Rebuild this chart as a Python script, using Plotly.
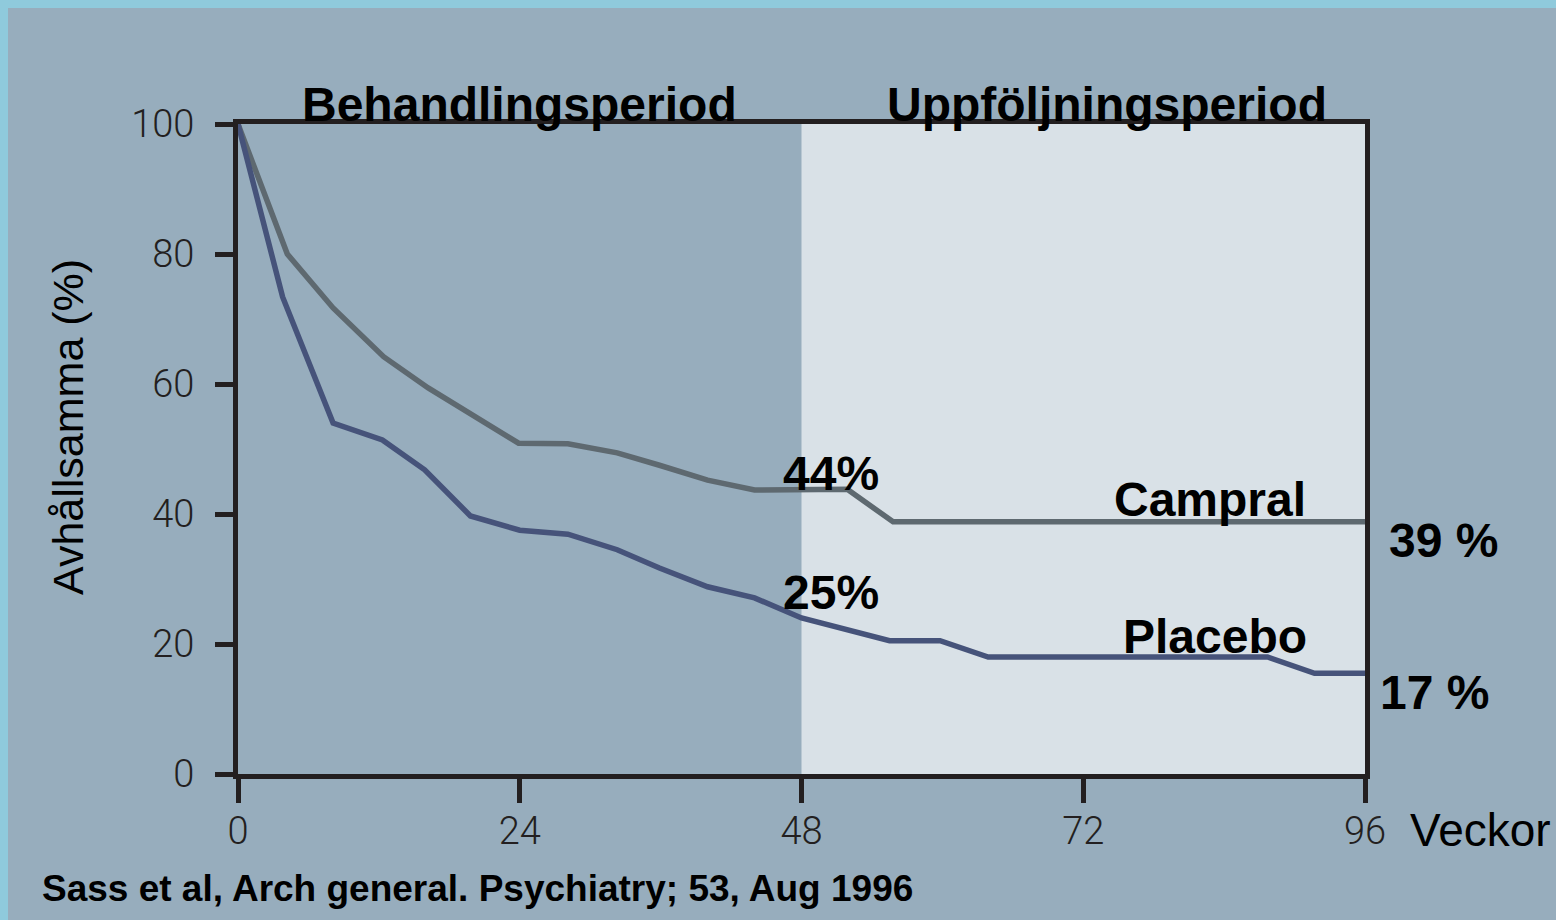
import plotly.graph_objects as go

# Data
weeks_campral = [0, 4.2, 8.1, 12.4, 16.2, 19.9, 23.9, 28.1, 32.3, 35.9, 40.0, 44.0, 47.9, 51.9, 55.8, 96]
campral = [100, 80, 71.7, 64.2, 59.4, 55.2, 50.9, 50.8, 49.4, 47.5, 45.2, 43.7, 43.7, 43.8, 38.8, 38.8]

weeks_placebo = [0, 3.8, 8.1, 12.3, 15.9, 19.8, 24.0, 28.1, 32.3, 35.9, 40.0, 44.0, 48.0, 51.7, 55.5, 59.8, 63.9, 87.7, 91.7, 96]
placebo = [100, 73.4, 54.0, 51.4, 46.8, 39.7, 37.5, 36.9, 34.5, 31.7, 28.8, 27.1, 24.0, 22.2, 20.5, 20.5, 18.0, 18.0, 15.5, 15.5]

x_ticks = [0, 24, 48, 72, 96]
y_ticks = [0, 20, 40, 60, 80, 100]

period_labels = ["Behandlingsperiod", "Uppföljningsperiod"]
period_x = [24, 74]

BG = "#97ADBD"
BORDER = "#8FCADC"
LIGHT = "#D9E1E7"
AXIS = "#231F20"
C_CAMPRAL = "#5E6970"
C_PLACEBO = "#46537A"
BOLD = "Liberation Sans, Arial, sans-serif"
THIN = "Roboto, Open Sans, sans-serif"

fig = go.Figure()
fig.add_trace(go.Scatter(x=weeks_campral, y=campral, mode="lines",
                         line=dict(color=C_CAMPRAL, width=5.5), name="Campral",
                         showlegend=False, hoverinfo="skip"))
fig.add_trace(go.Scatter(x=weeks_placebo, y=placebo, mode="lines",
                         line=dict(color=C_PLACEBO, width=5.5), name="Placebo",
                         showlegend=False, hoverinfo="skip"))

W, H = 1556, 920
ml, mr, mt, mb = 238, 191, 124, 146
pw, ph = W - ml - mr, H - mt - mb

def px2paper_x(px):
    return (px - ml) / pw

def px2paper_y(py):
    return (H - mb - py) / ph

shapes = [
    # outer border strip and main background
    dict(type="rect", xref="paper", yref="paper", x0=px2paper_x(-5), x1=px2paper_x(W + 5),
         y0=px2paper_y(H + 5), y1=px2paper_y(-5), fillcolor=BORDER, line_width=0, layer="below"),
    dict(type="rect", xref="paper", yref="paper", x0=px2paper_x(8), x1=px2paper_x(W + 5),
         y0=px2paper_y(H + 5), y1=px2paper_y(8), fillcolor=BG, line_width=0, layer="below"),
    # follow-up period area
    dict(type="rect", xref="x", yref="y", x0=48, x1=96, y0=0, y1=100,
         fillcolor=LIGHT, line_width=0, layer="below"),
]

BIG = 48
annotations = []
for lbl, xx in zip(period_labels, period_x):
    annotations.append(dict(x=xx, xref="x", y=px2paper_y(104), yref="paper", text="<b>" + lbl + "</b>",
                            showarrow=False, font=dict(family=BOLD, size=BIG, color="#000"),
                            xanchor="center", yanchor="middle"))

for txt, xx, yy in [("44%", 50.5, 46.3), ("25%", 50.5, 28.0), ("Campral", 82.8, 42.2), ("Placebo", 83.2, 21.1)]:
    annotations.append(dict(x=xx, y=yy, xref="x", yref="y", text="<b>" + txt + "</b>", showarrow=False,
                            font=dict(family=BOLD, size=BIG, color="#000"),
                            xanchor="center", yanchor="middle"))

for txt, pxx, pyy in [("39 %", 1444, 540), ("17 %", 1434, 692)]:
    annotations.append(dict(x=px2paper_x(pxx), y=px2paper_y(pyy), xref="paper", yref="paper",
                            text="<b>" + txt + "</b>", showarrow=False,
                            font=dict(family=BOLD, size=BIG, color="#000"),
                            xanchor="center", yanchor="middle"))

annotations.append(dict(x=px2paper_x(68), y=px2paper_y(427), xref="paper", yref="paper",
                        text="Avhållsamma (%)", textangle=-90, showarrow=False,
                        font=dict(family=BOLD, size=43, color="#000"),
                        xanchor="center", yanchor="middle"))
annotations.append(dict(x=px2paper_x(1408), y=px2paper_y(830), xref="paper", yref="paper",
                        text="Veckor", showarrow=False,
                        font=dict(family=BOLD, size=46, color="#000"),
                        xanchor="left", yanchor="middle"))
annotations.append(dict(x=px2paper_x(40), y=px2paper_y(888), xref="paper", yref="paper",
                        text="<b>Sass et al, Arch general. Psychiatry; 53, Aug 1996</b>", showarrow=False,
                        font=dict(family=BOLD, size=37, color="#000"),
                        xanchor="left", yanchor="middle"))

fig.update_layout(
    width=W, height=H,
    margin=dict(l=ml, r=mr, t=mt, b=mb, pad=0),
    paper_bgcolor=BG, plot_bgcolor="rgba(0,0,0,0)",
    shapes=shapes, annotations=annotations,
    xaxis=dict(range=[0, 96], tickvals=x_ticks, ticktext=[str(v) for v in x_ticks],
               showgrid=False, zeroline=False, showline=True, mirror=True,
               linecolor=AXIS, linewidth=5, ticks="outside", ticklen=24, tickwidth=5,
               tickcolor=AXIS, ticklabelstandoff=-5,
               tickfont=dict(family=THIN, size=38, color=AXIS, weight=300)),
    yaxis=dict(range=[0, 100], tickvals=y_ticks, ticktext=[str(v) for v in y_ticks],
               showgrid=False, zeroline=False, showline=True, mirror=True,
               linecolor=AXIS, linewidth=5, ticks="outside", ticklen=18, tickwidth=5,
               tickcolor=AXIS, ticklabelstandoff=13,
               tickfont=dict(family=THIN, size=38, color=AXIS, weight=300)),
)

fig.write_html("out.html", config={"displayModeBar": False},
               post_script="document.body.style.margin='0px';document.body.style.background='%s';" % BORDER)
